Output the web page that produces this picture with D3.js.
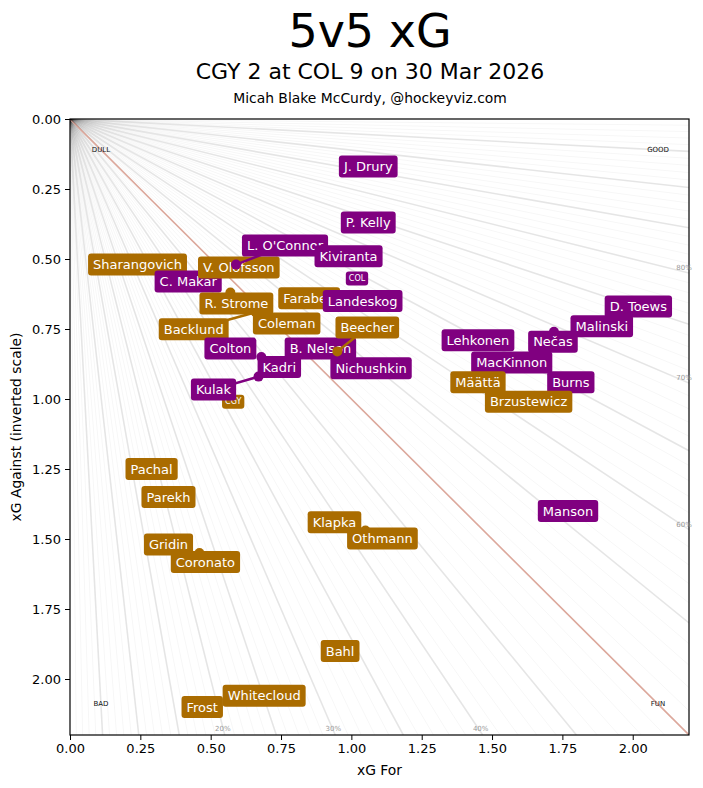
<!DOCTYPE html>
<html>
<head>
<meta charset="utf-8">
<script src="https://cdn.jsdelivr.net/npm/d3@7"></script>
<style>
  body { margin: 0; background: #fff; }
  svg text { font-family: "DejaVu Sans", sans-serif; }
</style>
</head>
<body>
<div id="chart"></div>
<script>
// Hard Code values ---------- ---------- ----------
let canvasW = 703, canvasH = 788;
let title = "5v5 xG";
let subtitle = "CGY 2 at COL 9 on 30 Mar 2026";
let credit = "Micah Blake McCurdy, @hockeyviz.com";

// Data (drawing order) ---------- ---------- ----------
let players = ["Sharangovich", "C. Makar", "V. Olofsson", "L. O'Connor", "Kiviranta", "J. Drury", "P. Kelly",
  "Farabee", "Landeskog", "Backlund", "R. Strome", "Coleman", "Colton", "Kulak", "Kadri", "B. Nelson", "Beecher",
  "Nichushkin", "D. Toews", "Malinski", "Nečas", "Lehkonen", "MacKinnon", "Burns", "Määttä", "Brzustewicz",
  "Pachal", "Parekh", "Klapka", "Othmann", "Gridin", "Coronato", "Manson", "Bahl", "Whitecloud", "Frost"];
let teams = ["CGY", "COL", "CGY", "COL", "COL", "COL", "COL",
  "CGY", "COL", "CGY", "CGY", "CGY", "COL", "COL", "COL", "COL", "CGY",
  "COL", "COL", "COL", "COL", "COL", "COL", "COL", "CGY", "CGY",
  "CGY", "CGY", "CGY", "CGY", "CGY", "CGY", "COL", "CGY", "CGY", "CGY"];
let xgFor = [0.24, 0.42, 0.60, 0.59, 0.99, 1.06, 1.06,
  0.85, 1.04, 0.66, 0.57, 0.77, 0.57, 0.67, 0.68, 0.89, 0.95,
  1.07, 2.02, 1.89, 1.72, 1.45, 1.57, 1.78, 1.45, 1.63,
  0.29, 0.35, 0.94, 1.05, 0.35, 0.46, 1.77, 0.96, 0.69, 0.47];
let xgAgainst = [0.52, 0.58, 0.53, 0.52, 0.49, 0.17, 0.37,
  0.64, 0.65, 0.69, 0.62, 0.73, 0.82, 0.92, 0.85, 0.82, 0.83,
  0.89, 0.67, 0.74, 0.76, 0.79, 0.87, 0.94, 0.94, 1.01,
  1.25, 1.35, 1.44, 1.47, 1.52, 1.55, 1.40, 1.90, 2.06, 2.10];
let teamNames = ["COL", "CGY"];
let teamFor = [1.02, 0.58];
let teamAgainst = [0.57, 1.01];
let xTicks = [0, 0.25, 0.5, 0.75, 1.0, 1.25, 1.5, 1.75, 2.0];
let yTicks = [0, 0.25, 0.5, 0.75, 1.0, 1.25, 1.5, 1.75, 2.0];
let shareLabels = [0.2, 0.3, 0.4, 0.6, 0.7, 0.8];
let corners = [["DULL", 0.05, 0.05], ["GOOD", 0.95, 0.05], ["BAD", 0.05, 0.95], ["FUN", 0.95, 0.95]];

// Layout: labels pushed off their points (pixels)
let labelNudge = {
  "L. O'Connor": [49, -19], "Kadri": [18, 10], "Kulak": [-45, 13], "R. Strome": [6, 11],
  "Backlund": [-62, 17], "Beecher": [30, -24], "Othmann": [17, 8], "Coronato": [6, 9], "Nečas": [-1, 10]
};
let teamColor = { COL: "#800080", CGY: "#aa6c00" };

// Initialize ---------- ---------- ----------
let maxV = 2.2;
let plotL = 70, plotR = 689, plotT = 119, plotB = 735;
let x = d3.scaleLinear().domain([0, maxV]).range([plotL, plotR]);
let y = d3.scaleLinear().domain([0, maxV]).range([plotT, plotB]);

let svg = d3.select("#chart").append("svg").attr("width", canvasW).attr("height", canvasH);

svg.append("text").attr("x", 370).attr("y", 47).attr("text-anchor", "middle")
  .attr("font-size", 46).text(title);
svg.append("text").attr("x", 370).attr("y", 79).attr("text-anchor", "middle")
  .attr("font-size", 22).text(subtitle);
svg.append("text").attr("x", 370).attr("y", 103).attr("text-anchor", "middle")
  .attr("font-size", 13.9).text(credit);

svg.append("clipPath").attr("id", "plotClip").append("rect")
  .attr("x", plotL).attr("y", plotT).attr("width", plotR - plotL).attr("height", plotB - plotT);
let plot = svg.append("g").attr("clip-path", "url(#plotClip)");

// Rays of constant xG share ---------- ---------- ----------
let shares = d3.range(1, 100).map(d => d / 100);
function rayEnd(p) {
  // line through origin where xGF/(xGF+xGA) = p
  let slope = (1 - p) / p;
  return slope <= 1 ? [maxV, maxV * slope] : [maxV / slope, maxV];
}
plot.selectAll(".ray").data(shares).enter().append("line")
  .attr("class", "ray")
  .attr("x1", x(0)).attr("y1", y(0))
  .attr("x2", d => x(rayEnd(d)[0])).attr("y2", d => y(rayEnd(d)[1]))
  .attr("stroke", d => Math.round(d * 100) === 50 ? "#dca89c" : "#000")
  .attr("stroke-opacity", d => {
    let k = Math.round(d * 100);
    if (k === 50) return 1;
    return k % 5 === 0 ? 0.1 : 0.035;
  })
  .attr("stroke-width", d => Math.round(d * 100) % 5 === 0 ? 1.6 : 1);

corners.forEach(c => {
  plot.append("text").attr("x", x(c[1] * maxV)).attr("y", y(c[2] * maxV))
    .attr("font-size", 7).attr("fill", "#111").attr("text-anchor", "middle")
    .attr("dominant-baseline", "middle").text(c[0]);
});

// Axes ---------- ---------- ----------
svg.append("g").attr("transform", "translate(0," + plotB + ")")
  .call(d3.axisBottom(x).tickValues(xTicks).tickFormat(d3.format(".2f")).tickSize(5).tickPadding(4))
  .call(g => g.selectAll("text").attr("font-size", 13).attr("font-family", "DejaVu Sans").attr("fill", "#000"));
svg.append("g").attr("transform", "translate(" + plotL + ",0)")
  .call(d3.axisLeft(y).tickValues(yTicks).tickFormat(d3.format(".2f")).tickSize(5).tickPadding(4))
  .call(g => g.selectAll("text").attr("font-size", 13).attr("font-family", "DejaVu Sans").attr("fill", "#000"));
svg.selectAll(".domain").remove();
svg.append("rect").attr("x", plotL).attr("y", plotT).attr("width", plotR - plotL).attr("height", plotB - plotT)
  .attr("fill", "none").attr("stroke", "#000").attr("stroke-width", 1.2);

svg.append("text").attr("x", (plotL + plotR) / 2).attr("y", 775).attr("text-anchor", "middle")
  .attr("font-size", 13.9).text("xG For");
svg.append("text").attr("transform", "translate(21," + ((plotT + plotB) / 2) + ") rotate(-90)")
  .attr("text-anchor", "middle").attr("font-size", 13.9).text("xG Against (inverted scale)");

// share labels (not clipped, they poke past the right frame)
shareLabels.forEach(p => {
  let e = rayEnd(p);
  let t = svg.append("text").attr("font-size", 7).attr("fill", "#999")
    .attr("text-anchor", "middle").attr("dominant-baseline", "middle")
    .text(Math.round(p * 100) + "%");
  if (p < 0.5) t.attr("x", x(e[0]) - 2).attr("y", plotB - 6);
  else t.attr("x", plotR - 5).attr("y", y(e[1]) - 5);
});

// Team markers ---------- ---------- ----------
let marks = plot.append("g");
function boxLabel(g, cx, cy, txt, fill, fs, padX, h) {
  let t = g.append("text").attr("x", cx).attr("y", cy).attr("text-anchor", "middle")
    .attr("dominant-baseline", "central").attr("font-size", fs).attr("fill", "#fff").text(txt);
  let w = t.node().getComputedTextLength() + 2 * padX;
  g.insert("rect", "text").attr("x", cx - w / 2).attr("y", cy - h / 2)
    .attr("width", w).attr("height", h).attr("rx", 3).attr("fill", fill);
}
teamNames.forEach((n, i) => {
  boxLabel(marks.append("g"), x(teamFor[i]), y(teamAgainst[i]), n, teamColor[n], 8, 3, 14);
});

// Players ---------- ---------- ----------
players.forEach((n, i) => {
  let g = marks.append("g");
  let px = x(xgFor[i]), py = y(xgAgainst[i]);
  let nd = labelNudge[n] || [0, 0];
  let lx = px + nd[0], ly = py + nd[1];
  let col = teamColor[teams[i]];
  if (nd[0] !== 0 || nd[1] !== 0) {
    g.append("line").attr("x1", px).attr("y1", py).attr("x2", lx).attr("y2", ly)
      .attr("stroke", col).attr("stroke-width", 2.5);
  }
  g.append("circle").attr("cx", px).attr("cy", py).attr("r", 5).attr("fill", col);
  boxLabel(g.append("g"), lx, ly, n, col, 13, 5, 22);
});
</script>
</body>
</html>
